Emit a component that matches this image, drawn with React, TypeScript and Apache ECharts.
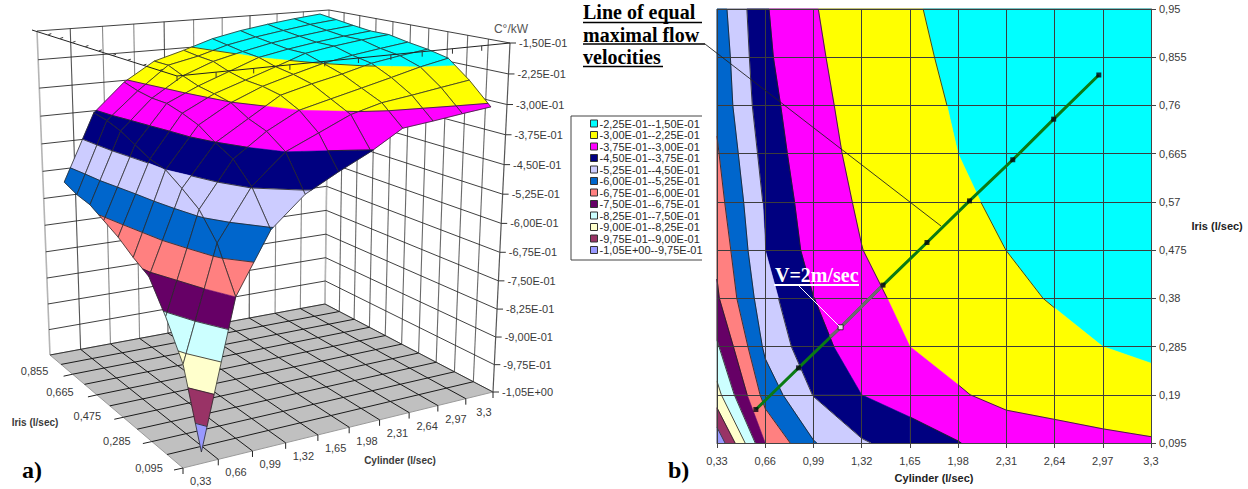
import React, { useEffect, useRef } from "react";
import * as echarts from "echarts";

// ---------- data ----------
const cylinder = [0.33, 0.66, 0.99, 1.32, 1.65, 1.98, 2.31, 2.64, 2.97, 3.3];
const iris = [0.095, 0.19, 0.285, 0.38, 0.475, 0.57, 0.665, 0.76, 0.855, 0.95];
const cylinderLabels = ["0,33", "0,66", "0,99", "1,32", "1,65", "1,98", "2,31", "2,64", "2,97", "3,3"];
const irisLabels = ["0,095", "0,19", "0,285", "0,38", "0,475", "0,57", "0,665", "0,76", "0,855", "0,95"];
const irisFloorLabels = ["0,095", "0,285", "0,475", "0,665", "0,855"];
const zLabels = ["-1,50E-01", "-2,25E-01", "-3,00E-01", "-3,75E-01", "-4,50E-01", "-5,25E-01", "-6,00E-01", "-6,75E-01", "-7,50E-01", "-8,25E-01", "-9,00E-01", "-9,75E-01", "-1,05E+00"];

const z095 = [-1.035, -0.675, -0.53, -0.458, -0.416, -0.378, -0.332, -0.324, -0.315, -0.307];
const z190 = [-0.85, -0.57, -0.447, -0.375, -0.34, -0.305, -0.285, -0.275, -0.264, -0.2535];
const z285 = [-0.76, -0.51, -0.399, -0.342, -0.3, -0.281, -0.2625, -0.244, -0.225, -0.21];
const z380 = [-0.685, -0.478, -0.376, -0.326, -0.277, -0.257, -0.24, -0.2203, -0.208, -0.198];
const z475 = [-0.66, -0.45, -0.348, -0.301, -0.268, -0.2455, -0.2248, -0.211, -0.2, -0.19];
const z570 = [-0.63, -0.44, -0.333, -0.292, -0.265, -0.238, -0.2103, -0.198, -0.188, -0.18];
const z665 = [-0.608, -0.42, -0.322, -0.285, -0.255, -0.225, -0.21, -0.198, -0.188, -0.18];
const z760 = [-0.586, -0.4, -0.322, -0.271, -0.24, -0.2205, -0.204, -0.192, -0.182, -0.174];
const z855 = [-0.578, -0.387, -0.316, -0.2545, -0.237, -0.2135, -0.198, -0.186, -0.175, -0.167];
const z950 = [-0.5625, -0.381, -0.305, -0.255, -0.232, -0.2065, -0.19, -0.178, -0.168, -0.16];
const Z = [z095, z190, z285, z380, z475, z570, z665, z760, z855, z950];

const bandNames = ["-2,25E-01--1,50E-01", "-3,00E-01--2,25E-01", "-3,75E-01--3,00E-01", "-4,50E-01--3,75E-01", "-5,25E-01--4,50E-01", "-6,00E-01--5,25E-01", "-6,75E-01--6,00E-01", "-7,50E-01--6,75E-01", "-8,25E-01--7,50E-01", "-9,00E-01--8,25E-01", "-9,75E-01--9,00E-01", "-1,05E+00--9,75E-01"];
const bandLow = [-0.225, -0.3, -0.375, -0.45, -0.525, -0.6, -0.675, -0.75, -0.825, -0.9, -0.975, -1.05];
const bandHigh = [-0.15, -0.225, -0.3, -0.375, -0.45, -0.525, -0.6, -0.675, -0.75, -0.825, -0.9, -0.975];
const bandColors = ["#00FFFF", "#FFFF00", "#FF00FF", "#000080", "#CCCCFF", "#0066CC", "#FF8080", "#660066", "#CCFFFF", "#FFFFCC", "#993366", "#9999FF"];

const flowX = [0.596, 0.888, 1.176, 1.466, 1.767, 2.058, 2.354, 2.634, 2.943];
const flowY = [0.161, 0.243, 0.323, 0.406, 0.49, 0.572, 0.653, 0.733, 0.82];
const greyX = [1.466, 1.176, 1.103];
const greyY = [0.406, 0.323, 0.304];

// ---------- field helpers ----------
type P = { a: number; b: number; z: number };
const EPS = 1e-9;
function cellCorners(i: number, j: number): P[] {
  return [
    { a: i, b: j, z: Z[j][i] },
    { a: i + 1, b: j, z: Z[j][i + 1] },
    { a: i + 1, b: j + 1, z: Z[j + 1][i + 1] },
    { a: i, b: j + 1, z: Z[j + 1][i] },
  ];
}
function mix(p: P, q: P, level: number): P {
  const t = (level - p.z) / (q.z - p.z);
  return { a: p.a + (q.a - p.a) * t, b: p.b + (q.b - p.b) * t, z: level };
}
function clipHalf(poly: P[], level: number, keepAbove: boolean): P[] {
  const out: P[] = [];
  for (let k = 0; k < poly.length; k++) {
    const p = poly[k];
    const q = poly[(k + 1) % poly.length];
    const pIn = keepAbove ? p.z >= level : p.z <= level;
    const qIn = keepAbove ? q.z >= level : q.z <= level;
    if (pIn) out.push(p);
    if (pIn !== qIn && Math.abs(q.z - p.z) > EPS) out.push(mix(p, q, level));
  }
  return out;
}
function bandPoly(i: number, j: number, band: number): P[] {
  return clipHalf(clipHalf(cellCorners(i, j), bandLow[band], true), bandHigh[band], false);
}
function contourSegs(i: number, j: number): P[][] {
  const c = cellCorners(i, j);
  const segs: P[][] = [];
  bandHigh.slice(1).forEach((lev) => {
    const pts: P[] = [];
    for (let k = 0; k < 4; k++) {
      const p = c[k];
      const q = c[(k + 1) % 4];
      if ((p.z - lev) * (q.z - lev) < 0) pts.push(mix(p, q, lev));
    }
    if (pts.length >= 2) segs.push([pts[0], pts[1]]);
    if (pts.length === 4) segs.push([pts[2], pts[3]]);
  });
  return segs;
}

// ---------- 3D projection (left picture) ----------
type XY = [number, number];
function homography(q00: XY, q10: XY, q11: XY, q01: XY) {
  const dx1 = q10[0] - q11[0], dx2 = q01[0] - q11[0], sx = q00[0] - q10[0] + q11[0] - q01[0];
  const dy1 = q10[1] - q11[1], dy2 = q01[1] - q11[1], sy = q00[1] - q10[1] + q11[1] - q01[1];
  const den = dx1 * dy2 - dx2 * dy1;
  const g = (sx * dy2 - dx2 * sy) / den;
  const h = (dx1 * sy - sx * dy1) / den;
  const a = q10[0] - q00[0] + g * q10[0], b = q01[0] - q00[0] + h * q01[0], c = q00[0];
  const d = q10[1] - q00[1] + g * q10[1], e = q01[1] - q00[1] + h * q01[1], f = q00[1];
  return (u: number, v: number): XY => {
    const w = g * u + h * v + 1;
    return [(a * u + b * v + c) / w, (d * u + e * v + f) / w];
  };
}
const floorAt = homography([183, 468], [493, 392], [325, 304], [50, 355]);
const topAt = homography([177, 76], [510, 43], [329, 10], [37, 31]);
const ZPERSP = 1.07;
function project(u: number, v: number, t: number): XY {
  const g = t / (t + ZPERSP * (1 - t));
  const f = floorAt(u, v);
  const p = topAt(u, v);
  return [f[0] + (p[0] - f[0]) * g, f[1] + (p[1] - f[1]) * g];
}
const surfaceU = (a: number) => (a + 0.665) / 10;
const surfaceV = (b: number) => 0.031 + b * 0.108;
const surfaceT = (z: number) => (z + 1.05) / 0.9;
const surf = (p: P): XY => project(surfaceU(p.a), surfaceV(p.b), surfaceT(p.z));

const AXIS_FONT = "11px 'Liberation Sans'";
const TITLE_FONT = "bold 10px 'Liberation Sans'";
const AXIS_COLOR = "#3a3a3a";

function seg(api: any, a: XY, b: XY, stroke: string, lineWidth: number) {
  const p = api.coord(a);
  const q = api.coord(b);
  return { type: "line", silent: true, shape: { x1: p[0], y1: p[1], x2: q[0], y2: q[1] }, style: { stroke, lineWidth, fill: null } };
}
function label(api: any, at: XY, text: string, font: string, align: string, fill = AXIS_COLOR) {
  const p = api.coord(at);
  return { type: "text", silent: true, style: { x: p[0], y: p[1], text, font, fill, align, verticalAlign: "middle", textAlign: align, textVerticalAlign: "middle" } };
}

function renderFrame(_: any, api: any) {
  const c: any[] = [];
  const n = zLabels.length - 1;
  const floorPts = [floorAt(0, 0), floorAt(1, 0), floorAt(1, 1), floorAt(0, 1)].map((q) => api.coord(q));
  c.push({ type: "polygon", silent: true, shape: { points: floorPts }, style: { fill: "#C0C0C0", stroke: "#9a9a9a", lineWidth: 1 } });
  // walls
  for (let k = 0; k <= 10; k++) {
    const u = k / 10;
    c.push(seg(api, project(u, 1, 0), project(u, 1, 1), k === 0 || k === 10 ? "#b5b5b5" : k % 3 === 1 ? "#555" : "#8a8a8a", k === 0 || k === 10 ? 1.6 : 1.1));
    if (k > 0) c.push(seg(api, project(1, u, 0), project(1, u, 1), k === 10 ? "#b5b5b5" : "#6a6a6a", 1.1));
  }
  for (let k = 0; k <= n; k++) {
    const t = k / n;
    c.push(seg(api, project(0, 1, t), project(1, 1, t), "#2a2a2a", 0.9));
    c.push(seg(api, project(1, 1, t), project(1, 0, t), "#2a2a2a", 0.9));
  }
  // floor mesh
  for (let k = 1; k < 10; k++) {
    c.push(seg(api, floorAt(k / 10, 0), floorAt(k / 10, 1), "#1a1a1a", 1));
    c.push(seg(api, floorAt(0, k / 10), floorAt(1, k / 10), "#1a1a1a", 1));
  }
  // right value axis
  c.push(seg(api, project(1, 0, 0), project(1, 0, 1), "#555", 1.2));
  zLabels.forEach((s, k) => {
    const p = project(1, 0, 1 - k / n);
    c.push(seg(api, p, [p[0] + 6, p[1]], "#333", 1));
    c.push(label(api, [p[0] + 9, p[1]], s, AXIS_FONT, "left"));
  });
  // floor axes
  cylinderLabels.forEach((s, k) => {
    const p = floorAt(k / 10, 0);
    c.push(seg(api, p, [p[0], p[1] + 6], "#222", 1));
    const m = floorAt((k + 0.5) / 10, 0);
    c.push(label(api, [m[0] + k * 0.5, m[1] + 17], s, AXIS_FONT, "center"));
  });
  const last = floorAt(1, 0);
  c.push(seg(api, last, [last[0], last[1] + 6], "#222", 1));
  irisFloorLabels.forEach((s, k) => {
    const p = floorAt(0, (2 * k) / 10);
    c.push(seg(api, p, [p[0] - 9, p[1] + 2], "#222", 1));
    c.push(label(api, [p[0] - 34 - k, p[1] - k * 0.8], s, AXIS_FONT, "center"));
  });
  c.push(label(api, [35, 422], "Iris (l/sec)", TITLE_FONT, "center"));
  c.push(label(api, [400, 460], "Cylinder (l/sec)", TITLE_FONT, "center"));
  c.push(label(api, [511, 29], "C°/kW", "12px 'Liberation Sans'", "center", "#555"));
  return { type: "group", children: c };
}

function renderSurfaceCell(_: any, api: any) {
  const i = api.value(0);
  const j = api.value(1);
  const c: any[] = [];
  bandLow.forEach((__, band) => {
    const poly = bandPoly(i, j, band);
    if (poly.length >= 3) {
      c.push({ type: "polygon", silent: true, shape: { points: poly.map((p) => api.coord(surf(p))) }, style: { fill: bandColors[band], stroke: bandColors[band], lineWidth: 0.5 } });
    }
  });
  contourSegs(i, j).forEach((s) => {
    c.push(seg(api, surf(s[0]), surf(s[1]), "#222", 0.8));
  });
  const outline = cellCorners(i, j).map((p) => api.coord(surf(p)));
  c.push({ type: "polygon", silent: true, shape: { points: outline }, style: { fill: null, stroke: "#2a2a2a", lineWidth: 0.8 } });
  return { type: "group", children: c };
}

function renderTopEdges(_: any, api: any) {
  const c: any[] = [];
  c.push(seg(api, [32, 30], project(0, 0, 1), "#222", 1));
  c.push(seg(api, project(0, 0, 1), project(1, 0, 1), "#222", 1));
  for (let k = 0; k <= 9; k++) {
    const p = project(k / 10, 0, 1);
    c.push(seg(api, p, [p[0], p[1] + 5], "#333", 1));
  }
  for (let k = 1; k < 10; k++) {
    const p = project(0, k / 10, 1);
    c.push(seg(api, p, [p[0] + 3, p[1] - 1], "#333", 1));
  }
  return { type: "group", children: c };
}

function bandRenderer(band: number) {
  return (_: any, api: any) => {
    const i = api.value(2);
    const j = api.value(3);
    const poly = bandPoly(i, j, band);
    if (poly.length < 3) return null;
    const pts = poly.map((p) => api.coord([cylinder[0] + p.a * (cylinder[1] - cylinder[0]), iris[0] + p.b * (iris[1] - iris[0])]));
    return { type: "polygon", silent: true, shape: { points: pts }, style: { fill: bandColors[band], stroke: bandColors[band], lineWidth: 0.6 } };
  };
}
function renderContours(_: any, api: any) {
  const i = api.value(2);
  const j = api.value(3);
  const toXY = (p: P): XY => [cylinder[0] + p.a * (cylinder[1] - cylinder[0]), iris[0] + p.b * (iris[1] - iris[0])];
  return { type: "group", children: contourSegs(i, j).map((s) => seg(api, toXY(s[0]), toXY(s[1]), "#1a1a1a", 0.8)) };
}

// data lists for the custom series
const cellData: number[][] = [];
for (let j = 0; j < 9; j++) for (let i = 0; i < 9; i++) cellData.push([cylinder[i], iris[j], i, j]);
const painterCells: number[][] = [];
for (let j = 8; j >= 0; j--) for (let i = 8; i >= 0; i--) painterCells.push([i, j]);

export default function App() {
  const ref = useRef<HTMLDivElement>(null);
  useEffect(() => {
    document.body.style.margin = "0";
    const chart = echarts.init(ref.current!, undefined, { renderer: "svg" });
    const serifBold = (size: number) => `bold ${size}px 'Liberation Serif'`;
    const text = (t: string, x: number, y: number, size: number, fill = "#000") => ({ type: "text", z: 100, silent: true, style: { text: t, x, y, font: serifBold(size), fill, textVerticalAlign: "bottom" } });
    const line = (x1: number, y1: number, x2: number, y2: number, stroke: string, lineWidth: number) => ({ type: "line", z: 100, silent: true, shape: { x1, y1, x2, y2 }, style: { stroke, lineWidth } });
    chart.setOption({
      animation: false,
      backgroundColor: "#fff",
      grid: [
        { left: 717, top: 9, width: 434, height: 434, show: true, borderColor: "#555", borderWidth: 1, backgroundColor: "transparent" },
        { left: 0, top: 0, width: 1248, height: 489, show: false },
      ],
      xAxis: [
        {
          gridIndex: 0, type: "value", min: 0.33, max: 3.3, interval: 0.33, z: 5,
          axisLine: { show: true, lineStyle: { color: "#444" } },
          axisTick: { show: true, length: 5, lineStyle: { color: "#444" } },
          splitLine: { show: true, lineStyle: { color: "#3c3c3c", width: 1 } },
          axisLabel: { margin: 12, color: AXIS_COLOR, fontFamily: "Liberation Sans", fontSize: 11, formatter: (v: number) => cylinderLabels[Math.round(v / 0.33) - 1] },
          name: "Cylinder (l/sec)", nameLocation: "middle", nameGap: 29,
          nameTextStyle: { color: "#222", fontFamily: "Liberation Sans", fontSize: 11, fontWeight: "bold" },
        },
        { gridIndex: 1, type: "value", min: 0, max: 1248, show: false },
      ],
      yAxis: [
        {
          gridIndex: 0, type: "value", position: "right", min: 0.095, max: 0.95, interval: 0.095, z: 5,
          axisLine: { show: true, lineStyle: { color: "#444" } },
          axisTick: { show: true, length: 5, lineStyle: { color: "#444" } },
          splitLine: { show: true, lineStyle: { color: "#3c3c3c", width: 1 } },
          axisLabel: { margin: 8, color: AXIS_COLOR, fontFamily: "Liberation Sans", fontSize: 11, formatter: (v: number) => irisLabels[Math.round(v / 0.095) - 1] },
          name: "Iris (l/sec)", nameLocation: "middle", nameGap: 35, nameRotate: 0,
          nameTextStyle: { color: "#222", fontFamily: "Liberation Sans", fontSize: 11, fontWeight: "bold", align: "left" },
        },
        { gridIndex: 1, type: "value", min: 0, max: 489, inverse: true, show: false },
      ],
      legend: {
        data: bandNames, orient: "vertical", left: 590, top: 118, padding: 0, itemWidth: 7, itemHeight: 7, itemGap: 0.5,
        icon: "rect", selectedMode: false, borderWidth: 0,
        itemStyle: { borderColor: "#333", borderWidth: 1 },
        textStyle: { color: "#2a2a2a", fontFamily: "Liberation Sans", fontSize: 11, padding: [0, 0, 0, -3], lineHeight: 11 },
      },
      series: [
        ...bandNames.map((name, band) => ({
          name, type: "custom", xAxisIndex: 0, yAxisIndex: 0, z: 2, silent: true,
          color: bandColors[band], itemStyle: { color: bandColors[band] },
          encode: { x: 0, y: 1 }, data: cellData, renderItem: bandRenderer(band),
        })),
        { name: "contours", type: "custom", xAxisIndex: 0, yAxisIndex: 0, z: 3, silent: true, encode: { x: 0, y: 1 }, data: cellData, renderItem: renderContours },
        { name: "frame", type: "custom", xAxisIndex: 1, yAxisIndex: 1, z: 1, silent: true, data: [[0, 0]], renderItem: renderFrame },
        { name: "surface", type: "custom", xAxisIndex: 1, yAxisIndex: 1, z: 2, silent: true, data: painterCells, renderItem: renderSurfaceCell },
        { name: "edges", type: "custom", xAxisIndex: 1, yAxisIndex: 1, z: 3, silent: true, data: [[0, 0]], renderItem: renderTopEdges },
        {
          name: "flow", type: "line", xAxisIndex: 0, yAxisIndex: 0, z: 6, silent: true, showSymbol: false,
          data: flowX.map((x, k) => [x, flowY[k]]), lineStyle: { color: "#0A7A14", width: 3 },
        },
        {
          name: "flowGrey", type: "line", xAxisIndex: 0, yAxisIndex: 0, z: 7, silent: true, showSymbol: false,
          data: greyX.map((x, k) => [x, greyY[k]]), lineStyle: { color: "#6e6a6e", width: 3 },
        },
        {
          name: "flowPoints", type: "scatter", xAxisIndex: 0, yAxisIndex: 0, z: 8, silent: true, symbol: "rect", symbolSize: 5,
          data: flowX.map((x, k) => (k === 2 ? { value: [x, flowY[k]], itemStyle: { color: "#fff", borderColor: "#111", borderWidth: 1 } } : [x, flowY[k]])),
          itemStyle: { color: "#050510" },
        },
      ],
      graphic: [
        { type: "polyline", z: 100, silent: true, shape: { points: [[702, 116], [571, 116], [571, 260], [702, 260]] }, style: { stroke: "#444", lineWidth: 1, fill: null } },
        text("Line of equal", 583, 22, 20),
        text("maximal flow", 583, 45, 20),
        text("velocities", 583, 67, 20),
        line(583, 22.5, 702, 22.5, "#000", 1.5),
        line(583, 44, 705, 44, "#000", 1.5),
        line(583, 66.5, 663, 66.5, "#000", 1.5),
        line(705, 44, 941, 226, "#222", 0.9),
        text("V=2m/sec", 775, 285, 20, "#fff"),
        line(774, 285, 859, 285, "#fff", 2),
        line(798, 285, 840, 327, "#fff", 1),
        text("a)", 22, 482, 24),
        text("b)", 668, 482, 24),
      ],
    });
    return () => chart.dispose();
  }, []);
  return <div ref={ref} style={{ width: 1248, height: 489 }} />;
}
